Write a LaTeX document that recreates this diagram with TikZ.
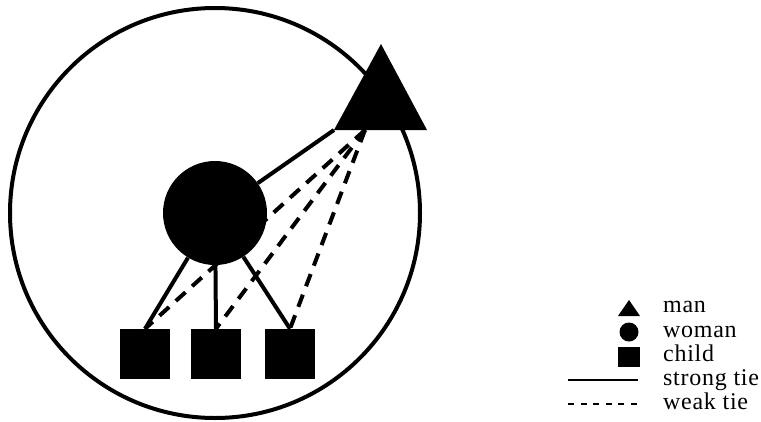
\documentclass[tikz,border=0pt]{standalone}
\usepackage{fontspec}
\setmainfont{Liberation Serif}
\newfontfamily\keyfont[LetterSpace=3]{Liberation Serif}
\usetikzlibrary{calc}
\begin{document}
\begin{tikzpicture}[x=1pt,y=-1pt,
  strongtie/.style={line width=4pt},
  weaktie/.style={line width=4pt,dash pattern=on 13pt off 9pt},
  childbox/.style={fill,minimum width=50pt,minimum height=50pt,inner sep=0pt},
  keytext/.style={anchor=base west,inner sep=0pt,font=\keyfont\fontsize{24}{24}\selectfont}]
\useasboundingbox (0,0) rectangle (761,421);

% household
\node[circle,draw,line width=4pt,minimum size=410pt,inner sep=0pt] (household) at (215,213) {};
\node[circle,fill,minimum size=104pt,inner sep=0pt] (woman) at (215,213) {};
\node[childbox] (childA) at (145,354) {};
\node[childbox] (childB) at (216,354) {};
\node[childbox] (childC) at (290,354) {};

\coordinate (manleft) at (334,130);
\coordinate (manright) at (427,130);
\coordinate (mantop) at (381,44);
\coordinate (mantie) at (365,130);
\fill (mantop) -- (manleft) -- (manright) -- cycle;

\draw[strongtie] (manleft) -- (woman);
\draw[strongtie] (childA.north) -- (woman);
\draw[strongtie] (childB.north) -- (woman);
\draw[strongtie] (childC.north) -- (woman);
\draw[weaktie] (mantie) -- (childA.north);
\draw[weaktie] (mantie) -- (childB.north);
\draw[weaktie] (mantie) -- (childC.north);

% key
\fill (629,300) -- (618,316) -- (640,316) -- cycle;
\node[circle,fill,minimum size=19pt,inner sep=0pt] (keywoman) at (629,332) {};
\node[fill,minimum width=22pt,minimum height=20pt,inner sep=0pt] (keychild) at (629,357) {};
\coordinate (strongA) at (568,380);
\coordinate (strongB) at (638,380);
\coordinate (weakA) at (568,404);
\coordinate (weakB) at (638,404);
\draw[line width=1.8pt] (strongA) -- (strongB);
\draw[line width=1.8pt,dash pattern=on 6pt off 6.5pt] (weakA) -- (weakB);

\node[keytext] (keyman) at (663,312) {man};
\node[keytext] (keywomantext) at (663,337) {woman};
\node[keytext] (keychildtext) at (663,361) {child};
\node[keytext] (keystrong) at (663,385) {strong\ tie};
\node[keytext] (keyweak) at (663,409) {weak\ tie};
\end{tikzpicture}
\end{document}
